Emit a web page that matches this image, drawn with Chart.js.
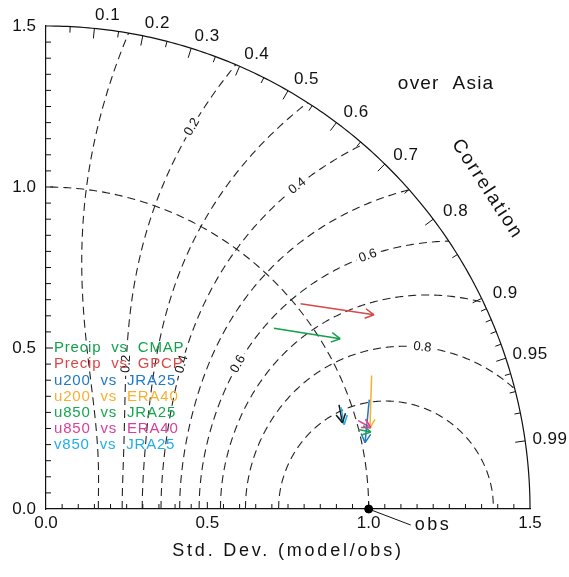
<!DOCTYPE html>
<html>
<head>
<meta charset="utf-8">
<script src="https://cdn.jsdelivr.net/npm/chart.js@4.4.1/dist/chart.umd.min.js"></script>
<style>html,body{margin:0;padding:0;background:#fff}</style>
</head>
<body>
<canvas id="taylor" width="569" height="577"></canvas>
<script>
// series (the last, black one has no legend entry)
const seriesNames = ["Precip  vs  CMAP", "Precip  vs  GPCP", "u200  vs  JRA25", "u200  vs  ERA40",
  "u850  vs  JRA25", "u850  vs  ERA40", "v850  vs  JRA25", null];
const seriesColors = ["#12a04c", "#d84848", "#1f78c8", "#f7b030", "#14a850", "#d8409c", "#22aee8", "#1a1a1a"];
// std dev ratio / correlation at arrow tail and arrow head
const sdFrom = [0.902, 1.014, 1.058, 1.091, 0.999, 1.006, 0.967, 0.964];
const ccFrom = [0.783, 0.778, 0.947, 0.925, 0.969, 0.962, 0.945, 0.942];
const sdTo   = [1.054, 1.182, 1.010, 1.035, 1.035, 1.038, 0.961, 0.957];
const ccTo   = [0.865, 0.860, 0.979, 0.970, 0.973, 0.970, 0.962, 0.960];

const sdTicks = [0, 0.5, 1.0, 1.5];
const corrLabels = [0.1, 0.2, 0.3, 0.4, 0.5, 0.6, 0.7, 0.8, 0.9, 0.95, 0.99];
const corrMinor = [0.05, 0.15, 0.25, 0.35, 0.45, 0.55, 0.65, 0.75, 0.85, 0.91, 0.92, 0.93, 0.94, 0.96, 0.97, 0.98];
const skillLevels = [0.1, 0.2, 0.3, 0.4, 0.5, 0.6, 0.7, 0.8, 0.9];
const skillLabelsHigh = [0.2, 0.4, 0.6, 0.8];
const skillLabelsLow = [0.2, 0.4, 0.6];

const FONT = "'Liberation Sans', Arial, sans-serif";
const xy = (sd, cc) => ({ x: sd * cc, y: sd * Math.sqrt(Math.max(0, 1 - cc * cc)) });

const arrowSets = sdFrom.map((sd, i) => ({
  label: seriesNames[i] || "other",
  data: [xy(sd, ccFrom[i]), xy(sdTo[i], ccTo[i])],
  showLine: true,
  borderColor: seriesColors[i],
  borderWidth: 1.5,
  pointRadius: 0,
  clip: false,
  arrow: true
}));
const obsSet = {
  label: "obs",
  data: [{ x: 1, y: 0 }],
  pointRadius: 4,
  backgroundColor: "#000",
  borderColor: "#000",
  clip: false
};

function text(ctx, str, x, y, size, opts = {}) {
  ctx.save();
  ctx.font = size + "px " + FONT;
  ctx.fillStyle = opts.color || "#111";
  ctx.letterSpacing = (opts.ls || 0) + "px";
  ctx.textAlign = opts.align || "center";
  ctx.textBaseline = "middle";
  ctx.translate(x, y);
  if (opts.rot) ctx.rotate(opts.rot);
  ctx.fillText(str, 0, 0);
  ctx.restore();
}

const taylorFrame = {
  id: "taylorFrame",
  beforeDatasetsDraw(chart) {
    const { ctx, scales: { x: xs, y: ys } } = chart;
    const polar = (r, th) => [xs.getPixelForValue(r * Math.cos(th)), ys.getPixelForValue(r * Math.sin(th))];
    const sdcc = (sd, cc) => polar(sd, Math.acos(Math.min(1, cc)));
    const arcPath = (r, join) => {
      for (let i = 0; i <= 180; i++) {
        const [a, b] = polar(r, (i / 180) * Math.PI / 2);
        (i || join) ? ctx.lineTo(a, b) : ctx.moveTo(a, b);
      }
    };
    const skillPt = (s, t) => sdcc(Math.exp(t), 2 * Math.pow(s, 0.25) * Math.sqrt(Math.cosh(t)) - 1);
    const x0 = xs.getPixelForValue(0), y0 = ys.getPixelForValue(0);

    ctx.save();
    // clip to the quarter disc
    ctx.beginPath();
    ctx.moveTo(x0, y0);
    arcPath(1.5, true);
    ctx.closePath();
    ctx.clip();

    ctx.strokeStyle = "#222";
    ctx.lineWidth = 1.1;
    ctx.setLineDash([8, 5]);
    // skill score contours
    skillLevels.forEach(s => {
      const T = Math.acosh(1 / Math.sqrt(s));
      ctx.beginPath();
      for (let i = 0; i <= 400; i++) {
        const [a, b] = skillPt(s, -T + (2 * T * i) / 400);
        i ? ctx.lineTo(a, b) : ctx.moveTo(a, b);
      }
      ctx.stroke();
    });
    // std dev 1.0 arc
    ctx.beginPath();
    arcPath(1.0);
    ctx.stroke();
    ctx.setLineDash([]);

    // contour labels
    const label = (s, t) => {
      const [a, b] = skillPt(s, t);
      const [a1, b1] = skillPt(s, t - 0.01);
      const [a2, b2] = skillPt(s, t + 0.01);
      let ang = Math.atan2(b2 - b1, a2 - a1);
      if (ang > Math.PI / 2) ang -= Math.PI;
      if (ang <= -Math.PI / 2) ang += Math.PI;
      ctx.save();
      ctx.translate(a, b);
      ctx.rotate(ang);
      ctx.fillStyle = "#fff";
      ctx.fillRect(-12, -6, 24, 12);
      ctx.restore();
      text(ctx, s.toFixed(1), a, b, 13, { rot: ang });
    };
    skillLabelsHigh.forEach(s => label(s, Math.log(1.27)));
    skillLabelsLow.forEach(s => {
      const T = Math.acosh(1 / Math.sqrt(s));
      let best = 0, bestD = 1e9;
      for (let i = 0; i <= 400; i++) {
        const t = -T * (i / 400);
        const [, b] = skillPt(s, t);
        const d = Math.abs(b - ys.getPixelForValue(0.45));
        if (d < bestD) { bestD = d; best = t; }
      }
      label(s, best);
    });
    ctx.restore();

    // outer arc
    ctx.save();
    ctx.strokeStyle = "#111";
    ctx.lineWidth = 1.2;
    ctx.beginPath();
    arcPath(1.5);
    ctx.stroke();
    // correlation ticks
    const tick = (cc, len) => {
      const th = Math.acos(cc);
      const [a, b] = polar(1.5, th);
      const ux = Math.cos(th), uy = -Math.sin(th);
      ctx.beginPath();
      ctx.moveTo(a, b);
      ctx.lineTo(a - ux * len, b - uy * len);
      ctx.stroke();
    };
    ctx.lineWidth = 1;
    corrLabels.forEach(c => tick(c, 10));
    corrMinor.forEach(c => tick(c, 6));
    // axis ticks (inward)
    for (let k = 1; k < 30; k++) {
      const v = k * 0.05, len = k % 10 === 0 ? 7 : 5;
      const py = ys.getPixelForValue(v), pxx = xs.getPixelForValue(v);
      ctx.beginPath();
      ctx.moveTo(x0, py); ctx.lineTo(x0 + len, py);
      ctx.moveTo(pxx, y0); ctx.lineTo(pxx, y0 - len);
      ctx.stroke();
    }
    ctx.restore();

    corrLabels.forEach(c => {
      const [a, b] = polar(1.54, Math.acos(c));
      text(ctx, String(c), a + 12, b, 17, { ls: 0.5 });
    });
    const [ca, cb] = polar(1.69, 36.0 * Math.PI / 180);
    text(ctx, "Correlation", ca, cb, 19, { rot: 57 * Math.PI / 180, ls: 2 });
    text(ctx, "over  Asia", xs.getPixelForValue(1.24), ys.getPixelForValue(1.32), 19, { ls: 1.2 });
    text(ctx, "Std. Dev. (model/obs)", (xs.left + xs.right) / 2, 551, 18, { ls: 2.8 });
  },
  afterDatasetsDraw(chart) {
    const { ctx } = chart;
    chart.data.datasets.forEach((ds, i) => {
      if (!ds.arrow) return;
      const pts = chart.getDatasetMeta(i).data;
      const p0 = pts[0], p1 = pts[1];
      const ang = Math.atan2(p1.y - p0.y, p1.x - p0.x);
      ctx.save();
      ctx.strokeStyle = ds.borderColor;
      ctx.lineWidth = 1.5;
      ctx.beginPath();
      for (const sgn of [-1, 1]) {
        const a = ang + Math.PI + sgn * 0.5;
        ctx.moveTo(p1.x, p1.y);
        ctx.lineTo(p1.x + 10 * Math.cos(a), p1.y + 10 * Math.sin(a));
      }
      ctx.stroke();
      ctx.restore();
    });
    // obs pointer
    const obs = chart.getDatasetMeta(chart.data.datasets.length - 1).data[0];
    ctx.save();
    ctx.strokeStyle = "#111";
    ctx.lineWidth = 1;
    ctx.beginPath();
    ctx.moveTo(obs.x, obs.y);
    ctx.lineTo(obs.x + 42, obs.y + 16);
    ctx.stroke();
    ctx.restore();
    text(ctx, "obs", obs.x + 46, obs.y + 16, 18, { align: "left", ls: 2.5 });
    // legend
    seriesNames.forEach((n, i) => {
      if (!n) return;
      text(ctx, n, 54, 348 + i * 16.2, 15, { align: "left", color: seriesColors[i], ls: 0.8 });
    });
  }
};

new Chart(document.getElementById("taylor"), {
  type: "scatter",
  data: { datasets: [...arrowSets, obsSet] },
  options: {
    responsive: false,
    animation: false,
    devicePixelRatio: 1,
    events: [],
    layout: { padding: { top: 26, right: 39, left: 0, bottom: 0 } },
    plugins: { legend: { display: false }, tooltip: { enabled: false } },
    scales: {
      x: {
        type: "linear", min: 0, max: 1.5,
        afterFit(s) { s.height = 68; },
        afterBuildTicks(s) { s.ticks = sdTicks.map(v => ({ value: v })); },
        ticks: { callback: v => v.toFixed(1), font: { family: FONT, size: 17 }, color: "#111", padding: 4, maxRotation: 0 },
        grid: { display: false, drawTicks: false },
        border: { color: "#111", width: 1.2 }
      },
      y: {
        type: "linear", min: 0, max: 1.5,
        afterFit(s) { s.width = 46; },
        afterBuildTicks(s) { s.ticks = sdTicks.map(v => ({ value: v })); },
        ticks: { callback: v => v.toFixed(1), font: { family: FONT, size: 17 }, color: "#111", padding: 10 },
        grid: { display: false, drawTicks: false },
        border: { color: "#111", width: 1.2 }
      }
    }
  },
  plugins: [taylorFrame]
});
</script>
</body>
</html>
